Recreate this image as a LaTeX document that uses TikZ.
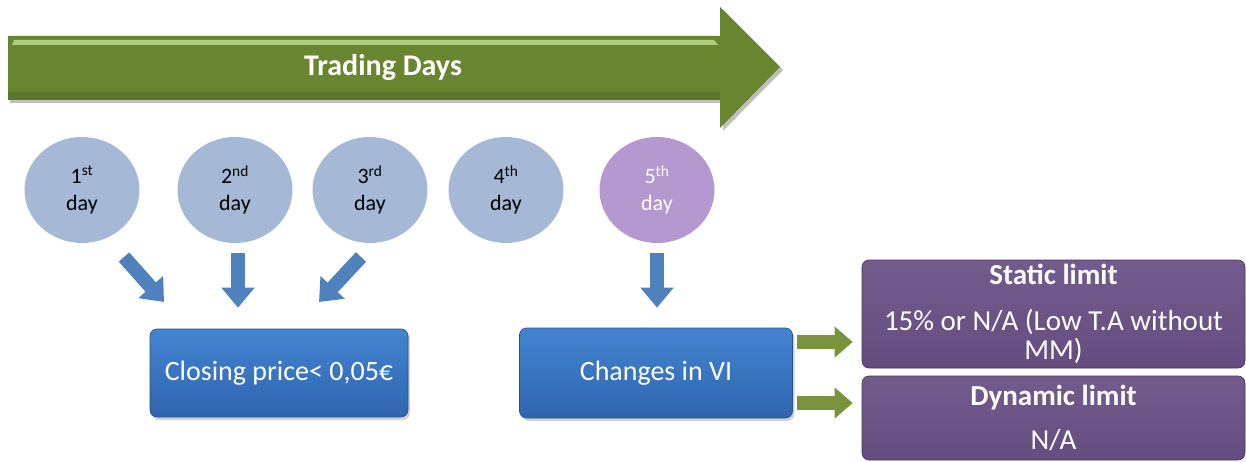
\documentclass[tikz,border=0pt]{standalone}
\usepackage{fontspec}
\setmainfont{Carlito}
\usetikzlibrary{shapes.geometric,arrows.meta,shadows}

\definecolor{daygrey}{HTML}{A5B9D7}
\definecolor{daypurple}{HTML}{B598D0}
\definecolor{arrowblue}{HTML}{4F81BD}
\definecolor{boxblue}{HTML}{4384D2}
\definecolor{boxblued}{HTML}{2F65AD}
\definecolor{arrowgreen}{HTML}{77933C}
\definecolor{bandgreen}{HTML}{68862F}
\definecolor{bandlight}{HTML}{C3DD8E}
\definecolor{boxpurple}{HTML}{654D7F}
\definecolor{boxpurplel}{HTML}{735B8E}

\begin{document}
\begin{tikzpicture}[x=1pt,y=-1pt,
    day/.style={ellipse, fill=daygrey, minimum width=115pt, minimum height=106pt,
      inner sep=0pt, align=center, font=\fontsize{22}{27}\selectfont},
    bluebox/.style={rectangle, rounded corners=7pt, top color=boxblue, bottom color=boxblued,
      draw=boxblued!80!black, line width=0.6pt, text=white, font=\fontsize{28}{33}\selectfont,
      drop shadow={shadow xshift=2pt, shadow yshift=-3pt, opacity=0.35}},
    limitbox/.style={rectangle, rounded corners=7pt, top color=boxpurplel, bottom color=boxpurple,
      draw=boxpurple!70!black, line width=0.6pt, text=white, align=center,
      minimum width=383pt, inner sep=0pt, font=\fontsize{29}{29}\selectfont},
    bluearrow/.style={draw=arrowblue, line width=14pt, -{Triangle[width=32pt,length=20pt]}},
    greenarrow/.style={draw=arrowgreen, line width=14pt, -{Triangle[width=30pt,length=18pt]}}
  ]
  \useasboundingbox (0,0) rectangle (1246,462);

  % trading days band
  \fill[black, opacity=0.25] (10,39) -- (723,39) -- (723,10) -- (783,70) -- (723,131) -- (723,103) -- (10,103) -- cycle;
  \fill[bandgreen] (8,36) -- (720,36) -- (720,7) -- (780,67) -- (720,128) -- (720,100) -- (8,100) -- cycle;
  \fill[bandlight, opacity=0.8] (14,40) -- (714,40) -- (718,45) -- (12,45) -- cycle;
  \fill[black, opacity=0.12] (8,92) -- (720,92) -- (720,100) -- (8,100) -- cycle;
  \node[text=white, font=\bfseries\fontsize{30}{34}\selectfont] (days) at (383,68) {Trading Days};

  % the five days
  \node[day] (d1) at (82,190) {1\textsuperscript{st}\\day};
  \node[day] (d2) at (235,190) {2\textsuperscript{nd}\\day};
  \node[day] (d3) at (370,190) {3\textsuperscript{rd}\\day};
  \node[day] (d4) at (506,190) {4\textsuperscript{th}\\day};
  \node[day, fill=daypurple, text=white] (d5) at (657,190) {5\textsuperscript{th}\\day};

  % boxes
  \node[bluebox, minimum width=258pt, minimum height=88pt] (closing) at (279,373) {Closing price< 0,05€};
  \node[bluebox, minimum width=273pt, minimum height=90pt] (changes) at (656,373) {Changes in VI};
  \node[limitbox, minimum height=108pt] (static) at (1053.5,314)
    {\textbf{Static limit}\\[17pt]15\% or N/A (Low T.A without\\MM)};
  \node[limitbox, minimum height=84pt] (dynamic) at (1053.5,418)
    {\textbf{Dynamic limit}\\[15pt]N/A};

  % arrows into the boxes
  \coordinate (s1) at (124,257);
  \coordinate (t1) at (164,302);
  \coordinate (s3) at (361,257);
  \coordinate (t3) at (319,302);
  \draw[bluearrow] (s1) -- (t1);
  \draw[bluearrow, shorten <=10pt, shorten >=21pt] ([xshift=3pt]d2.south) -- ([xshift=3pt]d2.south |- closing.north);
  \draw[bluearrow] (s3) -- (t3);
  \draw[bluearrow, shorten <=10pt, shorten >=20pt] (d5.south) -- (d5.south |- changes.north);

  % arrows to the limits
  \draw[greenarrow, shorten <=4pt, shorten >=9pt] ([yshift=31pt]changes.east) -- ([yshift=31pt]changes.east -| static.west);
  \draw[greenarrow, shorten <=4pt, shorten >=9pt] ([yshift=-30pt]changes.east) -- ([yshift=-30pt]changes.east -| dynamic.west);
\end{tikzpicture}
\end{document}
